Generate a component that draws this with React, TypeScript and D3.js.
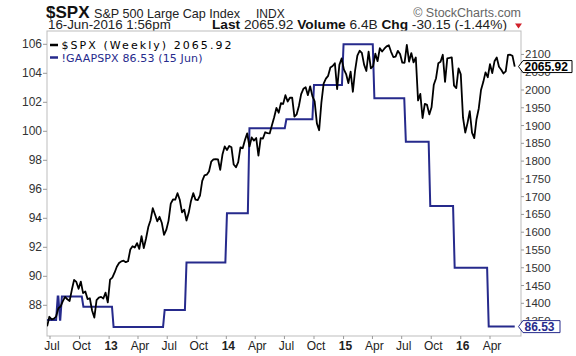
import React from "react";
import * as d3 from "d3";

// ---- DATA ----
const spxStart = "2012-06-22"; // first weekly close (Friday)
const spxCloses = [
  // 2012 (from Jun 22)
  1335.02, 1362.16, 1354.68, 1356.78, 1362.66, 1385.97, 1390.99, 1405.87, 1418.16, 1411.13,
  1406.58, 1437.92, 1465.77, 1460.15, 1440.67, 1460.93, 1428.59, 1433.19, 1411.94, 1414.2,
  1379.85, 1359.88, 1409.15, 1416.18, 1418.07, 1413.58, 1430.15, 1402.43,
  // 2013
  1466.47, 1472.05, 1485.98, 1502.96, 1513.17, 1517.93, 1519.79, 1515.6, 1518.2, 1551.18,
  1560.7, 1556.89, 1569.19, 1553.28, 1588.85, 1555.25, 1582.24, 1614.42, 1633.7, 1667.47,
  1649.6, 1630.74, 1643.38, 1626.73, 1592.43, 1606.28, 1631.89, 1680.19, 1692.09, 1691.65,
  1709.67, 1691.42, 1655.83, 1663.5, 1632.97, 1655.17, 1687.99, 1709.91, 1691.75, 1690.5,
  1703.2, 1744.5, 1759.77, 1761.64, 1770.61, 1798.18, 1804.76, 1805.81, 1805.09, 1775.32,
  1818.32, 1841.4,
  // 2014
  1831.37, 1842.37, 1838.7, 1790.29, 1782.59, 1797.02, 1838.63, 1836.25, 1859.45, 1878.04,
  1841.13, 1866.52, 1857.62, 1865.09, 1815.69, 1864.85, 1863.4, 1881.14, 1878.48, 1877.86,
  1900.53, 1923.57, 1949.44, 1936.16, 1962.87, 1960.96, 1985.44, 1967.57, 1978.22, 1978.34,
  1925.15, 1931.59, 1955.06, 1988.4, 2003.37, 2007.71, 1985.54, 2010.4, 1982.85, 1967.9,
  1906.13, 1886.76, 1964.58, 2018.05, 2031.92, 2039.82, 2063.5, 2067.56, 2075.37, 2002.33,
  2070.65, 2088.77,
  // 2015
  2058.2, 2044.81, 2019.42, 2051.82, 1994.99, 2055.47, 2096.99, 2110.3, 2104.5, 2071.26,
  2053.4, 2108.1, 2061.02, 2066.96, 2102.06, 2081.18, 2117.69, 2108.29, 2116.1, 2122.73,
  2126.06, 2107.39, 2092.83, 2094.11, 2109.99, 2101.49, 2076.78, 2076.62, 2126.64, 2079.65,
  2103.84, 2077.57, 2091.54, 1970.89, 1988.87, 1921.22, 1961.05, 1958.03, 1931.34, 1951.36,
  2014.89, 2033.11, 2075.15, 2079.36, 2099.2, 2023.04, 2089.17, 2090.11, 2091.69, 2012.37,
  2005.55, 2060.99, 2043.94,
  // 2016
  1922.03, 1880.33, 1906.9, 1940.24, 1880.05, 1864.78, 1917.78, 1948.05, 1999.99, 2022.19,
  2049.58, 2035.94, 2072.78, 2047.6, 2080.73, 2091.58, 2065.3, 2057.14, 2046.61, 2052.32,
  2099.06, 2099.13, 2096.07, 2065.92,
];

const gaapDates = [
  "2012-06-22", "2012-07-25", "2012-08-01", "2012-08-07", "2012-10-13", "2013-01-15",
  "2013-06-23", "2013-08-30", "2014-01-03", "2014-03-14", "2014-07-07", "2014-10-01",
  "2015-01-01", "2015-04-07", "2015-07-14", "2015-09-28", "2015-12-13", "2016-03-28",
];
const gaapValues = [
  86.99, 88.6, 87.0, 88.6, 87.9, 86.5, 87.68, 90.95, 94.34, 100.21, 100.83, 103.19,
  106.0, 102.28, 99.28, 94.85, 90.59, 86.53,
];
const gaapEnd = "2016-06-17";

const leftTicks = [88, 90, 92, 94, 96, 98, 100, 102, 104, 106];
const rightTicks = [1350, 1400, 1450, 1500, 1550, 1600, 1650, 1700, 1750, 1800, 1850, 1900, 1950, 2000, 2050, 2100];
const xTickDates = [
  "2012-07-01", "2012-10-01", "2013-01-01", "2013-04-01", "2013-07-01", "2013-10-01",
  "2014-01-01", "2014-04-01", "2014-07-01", "2014-10-01", "2015-01-01", "2015-04-01",
  "2015-07-01", "2015-10-01", "2016-01-01", "2016-04-01",
];

const spxLast = 2065.92;
const gaapLast = 86.53;

const parse = d3.timeParse("%Y-%m-%d");
const NAVY = "#262a8c";
const AX = "Liberation Sans, Arial, sans-serif";

export default function App() {
  const W = 576, H = 356;
  const L = 47, R = 521, T = 31, B = 336;

  const x = d3.scaleTime().domain([new Date(2012, 6, 1), new Date(2016, 3, 1)]).range([50, 490]);
  const yS = d3.scaleLinear().domain([1400, 2000]).range([303.3, 90]);
  const yG = d3.scaleLinear().domain([88, 106]).range([305.3, 44.3]);

  const start = parse(spxStart)!;
  const spx = spxCloses.map((v, i) => ({ d: d3.timeWeek.offset(start, i), v }));
  const spxPath = d3.line<{ d: Date; v: number }>().x((p) => x(p.d)).y((p) => yS(p.v))(spx) || "";

  const gPts: { d: Date; v: number }[] = [];
  gaapDates.forEach((ds, i) => {
    const d = parse(ds)!;
    if (i > 0) gPts.push({ d: d3.timeDay.offset(d, -5), v: gaapValues[i - 1] });
    gPts.push({ d, v: gaapValues[i] });
  });
  gPts.push({ d: parse(gaapEnd)!, v: gaapValues[gaapValues.length - 1] });
  const gPath = d3.line<{ d: Date; v: number }>().x((p) => x(p.d)).y((p) => yG(p.v))(gPts) || "";

  const fmtMonth = d3.timeFormat("%b");
  const fmtYear = d3.timeFormat("%y");

  const boxS = yS(spxLast);
  const boxG = yG(gaapLast);
  const tag = (cy: number, right: number) =>
    `M518.5,${cy} L523,${cy - 6} L${right},${cy - 6} L${right},${cy + 6} L523,${cy + 6} Z`;

  return (
    <svg width={W} height={H} style={{ position: "absolute", left: 0, top: 0, background: "#fff" }}>
      <rect x={0} y={0} width={W} height={H} fill="#fff" />
      {/* header */}
      <text x={46} y={18} fontFamily={AX} fontSize={17} fontWeight="bold" fill="#111">$SPX</text>
      <text x={94} y={18} fontFamily={AX} fontSize={12.6} fill="#222">S&amp;P 500 Large Cap Index</text>
      <text x={256} y={18} fontFamily={AX} fontSize={12} fill="#222">INDX</text>
      <text x={521} y={17} fontFamily={AX} fontSize={12.5} fill="#666" textAnchor="end">© StockCharts.com</text>

      <text x={48} y={28.5} fontFamily={AX} fontSize={13.3} fill="#222">16-Jun-2016 1:56pm</text>
      <text x={212} y={28.5} fontFamily={AX} fontSize={13.7} fill="#222">
        <tspan fontWeight="bold" fill="#111">Last</tspan>
        <tspan> 2065.92 </tspan>
        <tspan fontWeight="bold" fill="#111">Volume</tspan>
        <tspan> 6.4B </tspan>
        <tspan fontWeight="bold" fill="#111">Chg</tspan>
        <tspan> -30.15 (-1.44%)</tspan>
      </text>
      <path d="M515,23.5 L522,23.5 L518.5,28.5 Z" fill="#d0202a" />

      {/* plot frame */}
      <rect x={L} y={T} width={R - L} height={B - T} fill="#fff" stroke="#bdbdbd" strokeWidth={1} />

      {/* left axis */}
      {leftTicks.map((t) => (
        <g key={"l" + t}>
          <line x1={43} x2={L} y1={yG(t)} y2={yG(t)} stroke="#999" />
          <text x={42} y={yG(t) + 4} fontFamily={AX} fontSize={12} fill="#333" textAnchor="end">{t}</text>
        </g>
      ))}
      {/* right axis */}
      {rightTicks.map((t) => (
        <g key={"r" + t}>
          <line x1={R} x2={524} y1={yS(t)} y2={yS(t)} stroke="#999" />
          <text x={525} y={yS(t) + 4} fontFamily={AX} fontSize={11.5} fill="#333">{t}</text>
        </g>
      ))}
      {/* x axis */}
      {xTickDates.map((ds) => {
        const d = parse(ds)!;
        const isYear = d.getMonth() === 0;
        return (
          <g key={ds}>
            <line x1={x(d)} x2={x(d)} y1={B} y2={B + 3} stroke="#999" />
            <text x={x(d) + 2} y={349.5} fontFamily={AX} fontSize={12} fontWeight={isYear ? "bold" : "normal"}
              fill="#222" textAnchor="middle">{isYear ? fmtYear(d) : fmtMonth(d)}</text>
          </g>
        );
      })}

      <defs>
        <clipPath id="plotclip"><rect x={L} y={T} width={R - L} height={B - T} /></clipPath>
      </defs>
      <g clipPath="url(#plotclip)">
        <path d={gPath} fill="none" stroke={NAVY} strokeWidth={2} strokeLinejoin="miter" />
        <path d={spxPath} fill="none" stroke="#000" strokeWidth={1.8} strokeLinejoin="round" />
      </g>

      {/* legend */}
      <line x1={50} x2={58} y1={45} y2={45} stroke="#000" strokeWidth={2.5} />
      <text x={61.5} y={49} fontFamily="DejaVu Sans, Verdana, sans-serif" fontSize={11} fill="#000"
        textLength={170} lengthAdjust="spacing">$SPX (Weekly) 2065.92</text>
      <line x1={50} x2={58} y1={57.5} y2={57.5} stroke={NAVY} strokeWidth={2.5} />
      <text x={61.5} y={61.5} fontFamily="DejaVu Sans, Verdana, sans-serif" fontSize={11} fill={NAVY}
        textLength={141} lengthAdjust="spacing">!GAAPSPX 86.53 (15 Jun)</text>

      {/* last value tags */}
      <path d={tag(boxS, 572)} fill="#fff" stroke="#000" strokeWidth={1} />
      <text x={524.5} y={boxS + 4.4} fontFamily={AX} fontSize={12} fontWeight="bold" fill="#000">{spxLast.toFixed(2)}</text>
      <path d={tag(boxG, 560)} fill="#fff" stroke={NAVY} strokeWidth={1} />
      <text x={524.5} y={boxG + 4.4} fontFamily={AX} fontSize={12} fontWeight="bold" fill={NAVY}>{gaapLast.toFixed(2)}</text>
    </svg>
  );
}
